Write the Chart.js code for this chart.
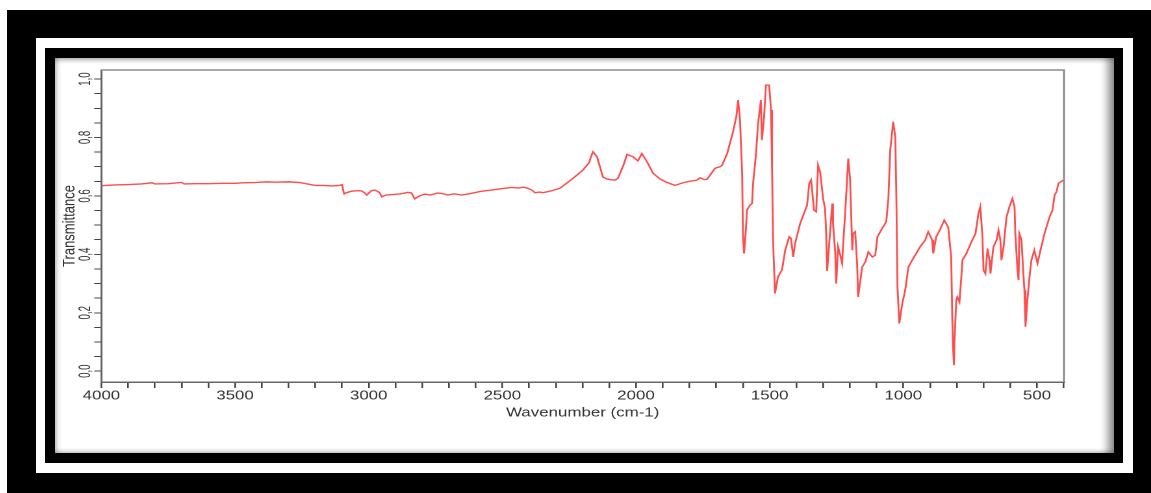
<!DOCTYPE html>
<html>
<head>
<meta charset="utf-8">
<script src="https://cdn.jsdelivr.net/npm/chart.js@4.4.0/dist/chart.umd.min.js"></script>
<style>
html,body{margin:0;padding:0;background:#fff;width:1151px;height:493px;overflow:hidden;position:relative}
.box{position:absolute}
#f1{left:7px;top:10px;width:1144px;height:483px;background:#000}
#f2{left:36px;top:38px;width:1097px;height:435px;background:#fff}
#f3{left:45px;top:48px;width:1078px;height:415px;background:#000}
#f4{left:55px;top:58px;width:1059px;height:395px;background:#fff;
  box-shadow: inset -11px 0 9px -5px rgba(0,0,0,0.45), inset 0 5px 5px -3px rgba(0,0,0,0.3), inset 5px 0 5px -3px rgba(0,0,0,0.25), inset 0 -4px 5px -3px rgba(0,0,0,0.25);}
#wrap{left:55px;top:58px;width:815px;height:395px;transform:scaleX(1.29939);transform-origin:0 0}
</style>
</head>
<body>
<div class="box" id="f1"></div>
<div class="box" id="f2"></div>
<div class="box" id="f3"></div>
<div class="box" id="f4"></div>
<div class="box" id="wrap"><canvas id="c"></canvas></div>
<script>
// ---- data ----
const wavenumber = [
4000,3960,3900,3850,3810,3800,3750,3700,3690,3650,3600,3550,3500,3470,3420,3380,3350,3300,3260,3230,
3200,3170,3140,3110,3100,3092,3080,3064,3040,3026,3015,3007,2990,2977,2960,2951,2935,2903,2880,2854,
2840,2828,2810,2790,2770,2742,2720,2704,2680,2652,2620,2600,2577,2540,2500,2465,2440,2420,2405,2390,
2378,2360,2348,2322,2300,2285,2250,2220,2199,2176,2168,2161,2146,2135,2124,2110,2097,2079,2068,2060,
2045,2034,2011,1993,1978,1959,1936,1910,1884,1854,1824,1800,1772,1760,1745,1734,1720,1704,1685,1678,
1659,1637,1625,1618,1611,1603,1600,1596,1590,1585,1574,1566,1562,1551,1544,1533,1529,1521,1514,1502,
1495,1491,1487,1480,1469,1454,1442,1427,1420,1412,1405,1386,1360,1352,1345,1334,1326,1319,1311,1300,
1293,1289,1285,1277,1266,1263,1255,1251,1244,1236,1229,1225,1218,1210,1206,1199,1191,1188,1180,1173,
1169,1154,1142,1131,1116,1105,1097,1079,1064,1056,1049,1038,1030,1026,1022,1015,1004,993,981,963,
937,918,907,892,888,877,862,847,832,821,817,814,811,809,802,798,790,783,779,764,
745,730,719,712,704,700,693,685,678,674,663,651,644,637,633,625,614,603,592,584,
581,573,569,566,558,551,547,543,536,528,521,510,498,487,472,453,442,434,427,420,
399
];
const transmittance = [
0.635,0.637,0.639,0.641,0.645,0.641,0.642,0.646,0.641,0.642,0.642,0.643,0.643,0.645,0.646,0.648,0.647,0.648,0.646,0.641,
0.636,0.636,0.634,0.636,0.638,0.607,0.612,0.616,0.618,0.617,0.610,0.603,0.618,0.620,0.612,0.597,0.603,0.605,0.607,0.612,
0.610,0.590,0.600,0.606,0.603,0.610,0.607,0.603,0.607,0.603,0.608,0.612,0.616,0.620,0.625,0.629,0.627,0.630,0.626,0.620,
0.611,0.613,0.611,0.616,0.622,0.626,0.650,0.672,0.688,0.713,0.735,0.751,0.734,0.700,0.665,0.658,0.656,0.654,0.660,0.677,
0.710,0.742,0.734,0.720,0.745,0.717,0.677,0.658,0.646,0.636,0.645,0.650,0.654,0.662,0.656,0.657,0.675,0.695,0.700,0.705,
0.745,0.820,0.870,0.928,0.860,0.677,0.470,0.403,0.470,0.551,0.568,0.574,0.643,0.745,0.842,0.928,0.791,0.871,0.979,0.979,
0.894,0.688,0.438,0.266,0.323,0.346,0.414,0.460,0.454,0.391,0.437,0.506,0.568,0.643,0.654,0.551,0.546,0.705,0.680,0.590,
0.557,0.483,0.343,0.440,0.574,0.506,0.408,0.300,0.426,0.397,0.369,0.437,0.534,0.665,0.728,0.654,0.414,0.471,0.477,0.369,
0.254,0.357,0.374,0.408,0.391,0.397,0.460,0.489,0.511,0.591,0.757,0.854,0.802,0.586,0.289,0.163,0.232,0.277,0.357,0.386,
0.426,0.449,0.477,0.449,0.403,0.460,0.486,0.517,0.492,0.391,0.186,0.083,0.021,0.095,0.243,0.254,0.237,0.323,0.380,0.403,
0.443,0.471,0.540,0.563,0.460,0.346,0.334,0.420,0.380,0.334,0.426,0.449,0.483,0.449,0.380,0.426,0.528,0.563,0.591,0.563,
0.471,0.346,0.312,0.471,0.449,0.334,0.277,0.152,0.243,0.323,0.380,0.414,0.369,0.414,0.471,0.528,0.551,0.603,0.614,0.643,
0.655
];
const xTickValues = [4000,3500,3000,2500,2000,1500,1000,500];
const yTickValues = [0.0,0.2,0.4,0.6,0.8,1.0];
const yTickLabels = ['0,0','0,2','0,4','0,6','0,8','1,0'];
const xAxisTitle = 'Wavenumber (cm-1)';
const yAxisTitle = 'Transmittance';

// ---- chart ----
const FONT = '"Liberation Sans", Arial, Helvetica, sans-serif';
const framePlugin = {
  id: 'frame',
  afterDraw(chart) {
    const {ctx, chartArea: a, scales: {y}} = chart;
    ctx.save();
    ctx.strokeStyle = '#8c8c8c';
    ctx.lineWidth = 1.5;
    ctx.beginPath();
    ctx.moveTo(a.left, a.top);
    ctx.lineTo(a.right, a.top);
    ctx.lineTo(a.right, a.bottom);
    ctx.stroke();
    ctx.fillStyle = '#333';
    ctx.font = '13px ' + FONT;
    ctx.textAlign = 'center';
    ctx.textBaseline = 'middle';
    yTickValues.forEach((v, i) => {
      const py = y.getPixelForValue(v);
      ctx.save();
      ctx.translate(a.left - 12.3, py);
      ctx.rotate(-Math.PI / 2);
      ctx.scale(0.74, 1);
      ctx.fillText(yTickLabels[i], 0, 0);
      ctx.restore();
    });
    ctx.restore();
  }
};

new Chart(document.getElementById('c'), {
  type: 'line',
  data: {
    datasets: [{
      data: wavenumber.map((w, i) => ({x: w, y: transmittance[i]})),
      borderColor: 'rgba(255,45,45,0.85)',
      borderWidth: 1.4,
      pointRadius: 0,
      tension: 0,
      fill: false
    }]
  },
  options: {
    responsive: true,
    maintainAspectRatio: false,
    animation: false,
    devicePixelRatio: 2,
    layout: {padding: {left: 0, right: 38.5, top: 12, bottom: 0}},
    plugins: {legend: {display: false}, tooltip: {enabled: false}},
    scales: {
      x: {
        type: 'linear',
        reverse: true,
        min: 399,
        max: 4000,
        afterBuildTicks(scale) {
          const t = [];
          for (let v = 400; v <= 4000; v += 100) t.push({value: v});
          scale.ticks = t;
        },
        afterFit(scale) { scale.height = 71; },
        ticks: {
          autoSkip: false,
          maxRotation: 0,
          minRotation: 0,
          padding: 0,
          color: '#333',
          font: {family: FONT, size: 13},
          callback: (v) => xTickValues.includes(v) ? String(v) : ''
        },
        grid: {drawOnChartArea: false, drawTicks: true, tickLength: 6, color: '#444', lineWidth: 1.3},
        border: {display: true, color: '#666', width: 1.5},
        title: {display: true, text: xAxisTitle, color: '#333', font: {family: FONT, size: 13}, padding: {top: 0, bottom: 32.4}}
      },
      y: {
        type: 'linear',
        min: -0.037,
        max: 1.031,
        afterBuildTicks(scale) {
          const t = [];
          for (let k = 0; k <= 20; k++) t.push({value: k * 0.05});
          scale.ticks = t;
        },
        afterFit(scale) { scale.width = 35.7; },
        ticks: {display: false},
        grid: {drawOnChartArea: false, drawTicks: true, tickLength: 5.5, color: '#444', lineWidth: 1},
        border: {display: true, color: '#666', width: 1.5},
        title: {display: true, text: yAxisTitle, color: '#333', font: {family: FONT, size: 13}, padding: {top: 3.7, bottom: 0}}
      }
    }
  },
  plugins: [framePlugin]
});
</script>
</body>
</html>
